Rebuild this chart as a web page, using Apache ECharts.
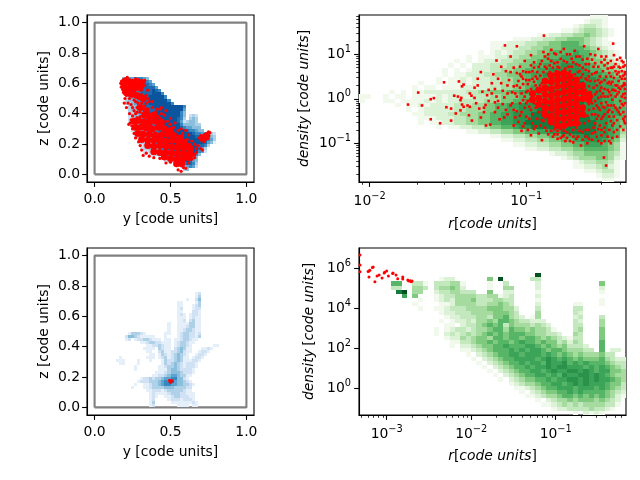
<!DOCTYPE html>
<html><head><meta charset="utf-8">
<style>html,body{margin:0;padding:0;background:#fff}#c{width:640px;height:480px}</style>
<script src="https://cdn.jsdelivr.net/npm/echarts@6/dist/echarts.min.js"></script>
</head><body><div id="c"></div>
<script>
const blues=['','#e4eff9','#cfe1f2','#aed1e7','#89bedc','#5ba3d0','#3787c0','#1c6aaf','#0b559f','#08306b','#08306b'];
const greens=['','#f0f9ec','#dcf2d7','#c4e8bd','#a5db9f','#80ca80','#57b567','#3ba458','#2a924a','#137c3e','#00511f'];
const linearTicks=[0,0.2,0.4,0.6,0.8,1.0];
const linearXTicks=[0,0.5,1.0];
const boxY=[0,1,1,0,0];
const boxZ=[0,0,1,1,0];
const trMajorX=[1e-2,1e-1],trMajorY=[1e-1,1,10],brMajorX=[1e-3,1e-2,1e-1],brMajorY=[1,1e2,1e4,1e6];

const topLeftRows=[
"0455566654","04556667765","045566677765","0045566777775","00455667777876","004456677778886",
"0034556677888886","00344566778888886","003345667788888886","0003445667788888888886","0003445667778888888885",
"0003345566778888888864","00023445667788888888640232","00023445567788888887630343","00023344566778888887523443",
"000023445566778888886444433","0000234455667788888876554440","00002344455667788888887665440",
"00000233445566778888888876655532","00000234455667788888888887776643","00000023445566778888888888877653",
"00000023344566778888888888887541","0000000233455667788888888877630","00000002334556677888888888753",
"00000000223445566778888888652","000000000022345566778888864","00000000000002345667788864",
"00000000000000023456778754","00000000000000000034567763","00000000000000000000245652","00000000000000000000034"];

const topLeftDots=[[.172,.6],[.178,.615],[.19,.625],[.2,.63],[.215,.64],[.23,.625],[.25,.62],[.27,.63],[.29,.625],[.31,.62],[.325,.61],[.175,.575],[.185,.56],[.19,.54],[.205,.585],[.225,.555],[.245,.575],[.265,.545],[.285,.59],[.305,.555],[.33,.585],[.35,.555],[.34,.52],[.21,.52],[.23,.5],[.25,.515],[.27,.48],[.24,.46],[.29,.5],[.31,.47],[.33,.45],[.36,.48],[.38,.44],[.28,.44],[.26,.42],[.3,.41],[.32,.4],[.36,.4],[.4,.41],[.44,.44],[.47,.42],[.25,.385],[.28,.375],[.33,.36],[.42,.38],[.46,.39],[.5,.37],[.53,.34],[.495,.33],[.235,.34],[.225,.33],[.25,.3],[.57,.3],[.6,.29],[.62,.26],[.58,.25],[.64,.22],[.66,.2],[.68,.19],[.7,.17],[.71,.16],[.67,.145],[.69,.24],[.7,.255],[.72,.26],[.735,.27],[.75,.28],[.76,.275],[.74,.25],[.73,.235],[.72,.215],[.745,.235],[.7,.225],[.32,.125],[.36,.12],[.39,.11],[.43,.105],[.47,.075],[.5,.08],[.55,.03],[.57,.02],[.585,.045],[.6,.04],[.62,.075],[.64,.1],[.66,.11],
[.2,.5],[.22,.47],[.26,.49],[.285,.47],[.25,.44],[.27,.4],[.31,.44],[.34,.47],[.35,.43],[.3,.38],[.38,.4],[.41,.43],[.39,.37],[.44,.4],[.36,.37],[.48,.35],[.52,.31],[.55,.29],[.58,.27],[.61,.23],[.6,.2],[.64,.18],[.67,.17],[.66,.13],[.34,.14],[.31,.16],[.3,.19],[.29,.215],[.27,.24],[.26,.27],[.245,.32],[.24,.36],[.23,.4],[.21,.44],[.195,.47],[.2,.53],[.18,.6],[.33,.62],[.24,.6],[.28,.58],[.26,.52],[.31,.525],[.35,.5],[.38,.48],[.43,.43],[.28,.41],[.3,.35],[.5,.33],[.45,.33],[.43,.37]];

const topLeftCore=[[.19,.6],[.215,.61],[.245,.605],[.275,.605],[.305,.6],[.2,.565],[.235,.57],[.265,.57],[.3,.57],[.21,.54],[.24,.53],[.28,.52],[.32,.5],[.34,.42],[.3,.44],[.26,.35],[.29,.355],[.325,.345],[.36,.34],[.4,.35],[.44,.345],[.27,.31],[.305,.31],[.34,.305],[.38,.3],[.42,.31],[.46,.3],[.5,.29],[.285,.27],[.32,.265],[.36,.265],[.4,.26],[.44,.26],[.48,.265],[.52,.26],[.56,.24],[.31,.23],[.35,.225],[.39,.225],[.43,.225],[.47,.22],[.51,.225],[.55,.215],[.59,.21],[.62,.185],[.35,.19],[.39,.185],[.43,.19],[.47,.185],[.51,.18],[.55,.18],[.59,.175],[.63,.16],[.39,.15],[.43,.145],[.47,.145],[.51,.14],[.55,.14],[.59,.135],[.63,.13],[.46,.115],[.5,.105],[.54,.1],[.58,.1],[.62,.11],[.54,.07],[.575,.07],[.74,.255],[.72,.24],[.36,.38],[.33,.39],[.39,.39]];

const bottomLeftRows=[
"0000000000 0000000000 0000000120 00000","0000000000 0000000000 0000000130 00000","0000000000 0000000000 0000100240 00000",
"0000000000 0000000000 0110000130 00000","0000000000 0000000000 0110001230 00000","0000000000 0000000000 0120001220 00000",
"0000000000 0000000000 0110002210 00000","0000000000 0000000000 0121012210 00000","0000000000 0000000000 0111012110 00000",
"0000000000 0000000000 0112023110 00000","0000000000 0000000010 0111133110 00000","0000000000 0000000010 0111233110 00000",
"0000000000 0000000010 0112332110 00000","0000013332 1000000110 0123322120 00000","0000244321 1111000100 0123322130 00000",
"0000120122 3321110110 1123321100 00000","0000000001 1233221110 1233211000 00000","0000000000 0112232110 1233210000 00011",
"0000000000 1111032110 2343110001 12100","0000000000 0110023112 2342110012 21000","0000000000 0011013212 3432100122 10000",
"0010000000 0111012312 3431101221 00000","0111000010 0010001322 3431112210 00000","0011000010 0000001323 4321222100 00000",
"0000000100 0000011233 4321222100 00000","0000000100 0000011134 4322221000 00000","0000000000 0000111234 4432221000 00000",
"0000000000 0001122345 5433110000 00000","0000000001 2232334556 6442100000 00000","0000000012 2233345667 5443210000 00000",
"0000000100 1123345665 5443321000 00000","0000001000 1123333444 3333220000 00000","0000000000 0112221233 3332110000 00000",
"0000000000 0012111123 3322111000 00000","0000000000 0012100112 3322211000 00000","0000000000 0012000012 2212221000 00000",
"0000000000 0013000001 1111112100 00000","0000000000 0012000000 0111101100 00000"];
const bottomLeftDots=[[.495,.172],[.5,.178],[.505,.172],[.498,.166],[.507,.178],[.492,.178],[.503,.165]];

const topRightRows=[
"111000","1221000","123321000","11234432100","112233445432100","1112233445554321000","11122233445566654321100",
"11222334455566665432100","1012123344556666766543210","101112233445566677776543210","10101222334455667777776554321",
"101022233344556677788877655432","1010122233445566778888887665543","1011222334455667788888888776654",
"10112122233445566778899988877665","10010112122233445566778899998877665","101101112222233445567788899998887766",
"1010112222222334455566778889999998887766","110010110111121222233344555667788899988887766","100011011112121223333444556677788999998887766",
"101121222233344556677888999999998887765","1012222233444556677888999999998888776","112222334445566778889999999998888776",
"11122233445566778889999999999888766","10112233445566778899999999999988765","10112233455667889999999999988765",
"112233445566778899999988764","11223344556677889888763","112233445566778887652","1122334455667776541","11223344556666541",
"1223445555431","12344455421","123344310","112234210","1123310","12210","1100"];

const topRightDots=[[-1.755,-.13],[-1.69,.14],[-1.666,-.15],[-1.61,-.01],[-1.59,.015],[-1.61,-.46],[-1.55,-.55],[-1.525,.37],[-1.51,-.19],[-1.48,-.22],[-1.48,-.49],[-1.46,.07],[-1.45,-.33],[-1.436,.05],[-1.43,.39],[-1.42,-.03],[-1.415,.02],[-1.41,.28],[-1.4,.32],[-1.42,-.26],[-1.41,-.13],[-1.4,-.18],[-1.366,-.37],[-1.347,-.49],[-1.375,-.15],[-1.36,-.18],[-1.36,.12],[-1.33,.25],[-1.31,.3],[-1.31,.45],[-1.29,.6],[-1.257,-.6],[-1.19,.86],[-1.136,1.2],[-1.06,1.18],[-.887,1.42],[-.445,1.24],[-.49,-1.5],[-.504,-1.32],
[-1.35,.07],[-1.33,.02],[-1.32,-.1],[-1.3,-.22],[-1.29,-.42],[-1.27,-.3],[-1.25,.08],[-1.24,.2],[-1.22,.35],[-1.21,.55],[-1.2,-.08],[-1.18,-.2],[-1.17,-.46],[-1.15,.18],[-1.14,.03],[-1.13,.62],[-1.12,-.35],[-1.11,.42],[-1.09,-.1],[-1.08,.7],[-1.07,.12],[-1.06,-.28],[-1.05,-.52],[-1.04,.25],[-1.03,.5],[-1.02,-.03],[-1.01,.85],[-1.0,-.4],[-.99,.33],[-.98,-.18],[-.97,.98],[-.96,.62],[-.95,.1],[-.94,-.62],[-.93,.45],[-.92,-.3],[-.91,.78],[-.9,.2],[-.89,1.05],[-.88,-.05],[-.87,-.72],[-.86,.55],[-1.28,.16],[-1.26,-.14],[-1.23,-.58],[-1.16,.72],[-1.1,.95],[-1.05,.4],[-1.0,.6],[-1.19,.05],[-1.08,-.6],[-1.03,-.72],[-.96,-.55],[-.92,-.78],[-.9,-.93],[-.95,.82],[-1.12,.3],[-1.09,.15],[-1.15,-.12],[-1.2,.22],[-1.13,-.25],[-1.07,-.42],[-1.03,.12],[-.98,.42],[-1.24,-.05],[-1.27,-.2],[-1.02,.33],[-.93,.6],[-.97,.22],[-.99,-.05],[-1.01,-.2],[-.94,-.2],[-.96,-.35],[-.89,-.5],[-.9,.35],[-.88,.72],[-.86,.9],[-.84,1.1],[-.83,-.85],[-.82,.8],[-.81,1.0],[-.8,-.9],[-.79,.7],[-.78,1.05],[-.77,-.85],[-.76,.85],[-.75,-.95],[-.74,1.0],[-.73,.72],[-.72,-.8],[-.71,.9],[-.7,-.98],[-.69,1.08],[-.68,.78],[-.67,-.85],[-.66,.95],[-.65,-1.05],[-.64,.7],[-.63,1.18],[-.62,-.7],[-.61,.9],[-.6,-.9],[-.59,1.0],[-.58,.55],[-.57,-.65],[-.56,.8],[-.55,-.85],[-.54,1.12],[-.53,.35],[-.52,-1.0],[-.51,.62],[-.5,-.75],[-.49,.95],[-.48,.2],[-.47,-.95],[-.46,.7],[-.45,-.6],[-.44,.98],[-.43,.3],[-.42,-.7],[-.41,.6],[-.4,-.35],[-.39,.85],[-.38,.1],[-.375,-.5],[-.37,.45],[-.37,.6],[-.375,.35],[-.38,.52],[-.39,.62],[-.4,.5],[-.41,.4],[-.42,.55],[-.43,.62],[-.44,.47],[-.45,.7],[-.46,.33],[-.37,.22],[-.37,.02],[-.38,-.15],[-.4,-.05],[-.42,.1],[-.44,-.15],[-.46,.08],[-.48,-.3],[-.5,.05],[-.52,.25],[-.54,-.2],[-.56,.4],[-.58,-.1],[-.6,.28],[-.55,-.45],[-.53,-.6],[-.51,-.4],[-.49,-.55],[-.47,-.7],[-.45,-.88],[-.5,-.95],[-.52,-.82],[-.54,-.68],[-.56,-.55],[-.58,-.78],[-.6,-.5],[-.62,.45],[-.63,-.4],[-.61,-1.0],[-.64,-.75],[-.66,-.55],[-.68,-.65],[-.7,-.7],[-.72,-.6],[-.74,-.75],[-.63,.32],[-.6,.62],[-.57,.72],[-.55,.15],[-.53,.5],[-.5,.42],[-.47,.58],[-.45,.2],[-.43,.78],[-.41,.72],[-.39,.28],[-.38,.72],[-.48,.8],[-.52,.82],[-.56,.58],[-.59,.15],[-.62,.65],[-.65,.48],[-.67,.6],[-.69,.55],[-.71,.72],[-.73,.58],[-.75,.68],[-.77,.6],[-.79,.5],[-.81,.62],[-.83,.7],[-.85,.6],[-.87,.42],[-.83,.45],[-.84,-.55],[-.86,-.45],[-.88,-.65],[-.82,-.68],[-.8,-.72],[-.78,-.68],[-.76,-.72],[-.91,-.15],[-.93,.05],[-.95,-.1],[-.97,-.25],[-.92,.15],[-.9,-.3],[-.94,.3],[-.96,.45],[-.98,.6],[-.91,.52],[-.89,.25],[-.95,.7],[-1.0,.15],[-1.02,.45],[-1.04,-.1],[-1.06,.05],[-1.08,.28],[-1.1,-.15],[-.42,-.25],[-.44,-.4],[-.46,-.5],[-.48,-.15],[-.4,-.2],[-.38,-.3],[-.37,-.4],[-.37,.75],[-.39,.45],[-.41,.15],[-.43,.05],[-.45,-.02],[-.47,-.25],[-.5,-.2],[-.52,-.1],[-.54,.02],[-.56,.1],[-.58,-.35],[-.6,-.25],[-.62,.08],[-.55,.6],[-.52,.05],[-.5,.75],[-.47,.38],
[-1.06,.58],[-1.04,.72],[-1.0,.42],[-1.01,.05],[-1.03,-.3],[-1.01,-.55],[-.99,-.7],[-.97,-.82],[-.95,-.68],[-.93,-.45],[-.91,-.6],[-.92,.72],[-.9,.85],[-.88,.95],[-.86,1.0],[-.84,.85],[-.82,1.02],[-.8,.82],[-.78,.9],[-.76,1.12],[-.74,.82],[-.72,1.0],[-.7,.82],[-.68,.95],[-.66,.75],[-.64,.88],[-.62,.78],[-.6,.78],[-.58,.88],[-.56,.98],[-.54,.72],[-.52,.95],[-.5,.88],[-.48,.68],[-.46,.85],[-.44,.72],[-.42,.88],[-.4,.92],[-.38,.82],[-.86,-.8],[-.84,-.72],[-.82,-.8],[-.8,-.8],[-.78,-.88],[-.76,-.82],[-.74,-.88],[-.72,-.95],[-.7,-.85],[-.68,-.9],[-.66,-.72],[-.64,-.92],[-.62,-.85],[-.6,-.7],[-.58,-.92],[-.56,-.75],[-.54,-.95],[-.52,-.7],[-.5,-.65],[-.48,-.85],[-.46,-1.0],[-.44,-.75],[-.42,-.85],[-.4,-.62],[-.38,-.7],[-.37,-.55],[-.63,-.55],[-.61,-.38],[-.6,-.12],[-.61,.05],[-.62,.2],[-.61,.42],[-.6,.5],[-.59,.4],[-.58,.05],[-.57,-.22],[-.57,.25],[-.56,-.35],[-.56,-.05],[-.55,.3],[-.55,-.15],[-.54,.42],[-.54,-.38],[-.53,.18],[-.53,-.25],[-.52,-.45],[-.52,.38],[-.51,.12],[-.51,-.18],[-.5,-.35],[-.5,.22],[-.49,.5],[-.49,-.08],[-.48,.35],[-.48,.05],[-.47,.15],[-.47,-.4],[-.46,-.15],[-.46,.5],[-.45,.38],[-.45,-.3],[-.44,.2],[-.44,-.55],[-.43,.18],[-.43,-.2],[-.42,.3],[-.42,-.48],[-.41,-.3],[-.41,.25],[-.4,.7],[-.4,.22],[-.39,.05],[-.39,-.12],[-.38,.3],[-.38,-.45],[-.37,.12],[-.37,-.1],[-.37,.32],[-.37,.55],
[-1.14,-.42],[-1.16,.35],[-1.18,.45],[-1.2,-.3],[-1.22,.12],[-1.18,-.05],[-1.12,.12],[-1.1,.6],[-1.08,-.25],[-1.06,.3],[-1.04,.55],[-1.04,-.38],[-1.02,.62],[-1.02,-.62],[-1.0,-.1],[-.99,.18],[-.98,-.45],[-.97,.75],[-.96,.05],[-.95,.38],[-.94,.5],[-.93,-.15],[-.92,-.08],[-.91,.3],[-.9,-.48],[-.89,.6],[-.88,-.42],[-.87,.68],[-.85,.75],[-.8,.72],[-.72,.62],[-.66,.62],[-.64,.55]];

const topRightCore=[[-.88,.4],[-.88,.25],[-.88,.1],[-.88,-.05],[-.88,-.2],[-.88,-.35],[-.84,.52],[-.84,.38],[-.84,.22],[-.84,.07],[-.84,-.08],[-.84,-.22],[-.84,-.38],[-.84,-.52],[-.8,.56],[-.8,.42],[-.8,.28],[-.8,.12],[-.8,-.02],[-.8,-.16],[-.8,-.3],[-.8,-.45],[-.8,-.6],[-.76,.58],[-.76,.45],[-.76,.3],[-.76,.15],[-.76,0],[-.76,-.15],[-.76,-.3],[-.76,-.45],[-.76,-.6],[-.72,.5],[-.72,.35],[-.72,.2],[-.72,.05],[-.72,-.1],[-.72,-.25],[-.72,-.4],[-.72,-.55],[-.68,.42],[-.68,.28],[-.68,.14],[-.68,0],[-.68,-.14],[-.68,-.28],[-.68,-.42],[-.68,-.55],[-.64,.3],[-.64,.15],[-.64,0],[-.64,-.2],[-.64,-.35],[-.92,.2],[-.92,.02],[-.92,-.12],[-.96,.12],[-.96,-.02],[-.6,.1],[-.6,-.02]];

const bottomRightRows=[
"","","","","","",
"0000000000 0000000000 0000000000 000a000000 0000000000",
"0000000000 0000012200 000050a000 0033000000 0000000000",
"0000006600 3310333441 0000100300 0002000000 0000050000",
"0000003300 4430344542 0000100440 0002000000 0000020000",
"00000009a0 4400233443 3300500220 0001000000 0000010000",
"0000000070 5000123344 4433441230 0002000000 0000000000",
"0000000000 0100123244 4533344330 0001000000 0000010000",
"0000000000 1000011244 4433445430 0002000000 1100010000",
"0000000000 0100112333 4444555442 0003000000 3300000000",
"0000000000 0000012233 3444455543 0004000000 3200000000",
"0000000000 0000001223 3344355643 2014000000 2300030000",
"0000000000 0000010122 3244546654 3322200000 3200040000",
"0000000000 0000001102 3345656354 4434320000 3300040000",
"0000000000 0000101233 2344566465 5454431000 3400050000",
"0000000000 0000102323 4345656566 6554433200 4300050000",
"0000000000 0000001224 3455466566 5665454321 3300050000",
"0000000000 0000000113 3455656656 7665655342 4300060000",
"0000000000 0000000102 2345566766 6776565453 3320060000",
"0000000000 0000000001 1234566676 7677656654 4433060220",
"0000000000 0000000000 1023456677 6777676565 4544453300",
"0000000000 0000000000 0102345667 7776787676 5655564322",
"0000000000 0000000000 0010234566 7677687786 7676665433",
"0000000000 0000000000 0001023456 6767787887 7767676543",
"0000000000 0000000000 0000102345 6677678778 8787677554",
"0000000000 0000000000 0000010234 5667767687 7887876544",
"0000000000 0000000000 0000001023 4556676778 8787877654",
"0000000000 0000000000 0000000012 3445667767 8787776553",
"0000000000 0000000000 0000000001 1234566777 6777676543",
"0000000000 0000000000 0000000000 1023455667 6766665432",
"0000000000 0000000000 0000000000 0112344566 5656565421",
"0000000000 0000000000 0000000000 0001023445 4555454320",
"0000000000 0000000000 0000000000 0000112343 4344443310",
"0000000000 0000000000 0000000000 0000001223 3334332100",
"0000000000 0000000000 0000000000 0000000000 1021210000"];

const bottomRightDots=[[-3.316,6.67],[-3.316,6.17],[-3.316,5.83],[-3.21,5.87],[-3.22,5.84],[-3.2,5.9],[-3.16,6.07],[-3.17,6.04],[-3.21,5.57],[-3.14,5.33],[-3.114,5.62],[-3.09,5.67],[-3.055,5.52],[-3.03,5.77],[-3.025,5.8],[-3.0,5.87],[-2.98,5.62],[-2.925,5.77],[-2.93,5.74],[-2.89,5.67],[-2.87,5.48],[-2.81,5.57],[-2.81,5.47],[-2.75,5.42],[-2.74,5.37],[-2.72,5.38],[-2.7,5.37],[-2.71,5.33]];

const panels={
 tl:{left:87,top:15,w:167,h:167},tr:{left:359,top:15,w:267,h:167},
 bl:{left:87,top:248,w:167,h:167},br:{left:359,top:248,w:267,h:167}
};
const F='"DejaVu Sans"';
const grids=[panels.tl,panels.tr,panels.bl,panels.br].map(p=>({left:p.left,top:p.top,width:p.w,height:p.h,show:true,borderColor:'#000',borderWidth:1.1,backgroundColor:'#fff'}));

const sup={b:{fontFamily:F,fontSize:13.9,color:'#000',lineHeight:20},s:{fontFamily:F,fontSize:9.8,color:'#000',verticalAlign:'top',lineHeight:20,padding:[0,0,6,0]}};
const nameRich={i:{fontFamily:F,fontStyle:'italic',fontSize:13.9,color:'#000'},n:{fontFamily:F,fontSize:13.9,color:'#000'}};
function powerLabel(v){const e=Math.round(Math.log10(v));return '{b|10}{s|'+String(e).replace('-','\u2212')+'}';}
function minors(a,b){const o=[];for(let e=a;e<=b;e++)for(let m=2;m<=9;m++)o.push(m*Math.pow(10,e));return o;}

const tk={lineStyle:{color:'#000',width:1.1}};
function linAxis(dim,gi,ticks,name,gap){
 return {type:'value',gridIndex:gi,min:-0.05,max:1.05,position:dim==='x'?'bottom':'left',
  name,nameLocation:'middle',nameGap:gap,nameTextStyle:{fontFamily:F,fontSize:13.9,color:'#000'},
  axisLine:{show:true,onZero:false,lineStyle:{color:'#000',width:1.1}},
  axisTick:{show:true,length:4.9,inside:false,customValues:ticks,lineStyle:tk.lineStyle},
  axisLabel:{show:true,fontFamily:F,fontSize:13.9,color:'#000',margin:dim==='x'?10:7,customValues:ticks,formatter:v=>v.toFixed(1)},
  splitLine:{show:false}};
}
function logAxis(dim,gi,lo,hi,major,name,gap){
 return {type:'log',logBase:10,gridIndex:gi,min:Math.pow(10,lo),max:Math.pow(10,hi),position:dim==='x'?'bottom':'left',
  name,nameLocation:'middle',nameGap:gap,nameTextStyle:{rich:nameRich},
  axisLine:{show:true,onZero:false,lineStyle:{color:'#000',width:1.1}},
  axisTick:{show:true,length:4.9,customValues:major,lineStyle:tk.lineStyle},
  axisLabel:{show:true,margin:dim==='x'?9:8,customValues:major,formatter:powerLabel,rich:sup},
  splitLine:{show:false}};
}
function logMinor(dim,gi,lo,hi,ma,mb){
 return {type:'log',logBase:10,gridIndex:gi,min:Math.pow(10,lo),max:Math.pow(10,hi),position:dim==='x'?'bottom':'left',
  axisLine:{show:false},axisTick:{show:true,length:2.8,customValues:minors(ma,mb),lineStyle:{color:'#000',width:.8}},
  axisLabel:{show:false},splitLine:{show:false}};
}
const dName='{i|density} {n|[}{i|code units}{n|]}';
const rName='{i|r}{n|[}{i|code units}{n|]}';
const trX=[-2.068,-0.363],trY=[-1.87,1.883],brX=[-3.328,-0.168],brY=[-1.335,7.015];
const xAxis=[
 linAxis('x',0,linearXTicks,'y [code units]',30),
 logAxis('x',1,trX[0],trX[1],trMajorX,rName,35),
 linAxis('x',2,linearXTicks,'y [code units]',30),
 logAxis('x',3,brX[0],brX[1],brMajorX,rName,34),
 logMinor('x',1,trX[0],trX[1],-3,-1),
 logMinor('x',3,brX[0],brX[1],-4,-1)];
const yAxis=[
 linAxis('y',0,linearTicks,'z [code units]',36),
 logAxis('y',1,trY[0],trY[1],trMajorY,dName,48),
 linAxis('y',2,linearTicks,'z [code units]',36),
 logAxis('y',3,brY[0],brY[1],brMajorY,dName,43),
 logMinor('y',1,trY[0],trY[1],-2,1)];

function cellsLinear(rows,x0,step,zTop){
 const out=[];
 rows.forEach((r,j)=>{const s=r.replace(/ /g,'');
  for(let i=0;i<s.length;i++){const l=parseInt(s[i],16);if(!l)continue;
   out.push([x0+i*step,zTop-(j+1)*step,x0+(i+1)*step,zTop-j*step,l]);}});
 return out;
}
function cellsLog(rows,xr,yr,nc,pad){
 const out=[],nr=rows.length,dx=(xr[1]-xr[0])/nc,dy=(yr[1]-yr[0])/nr;
 rows.forEach((r,j)=>{let s=r.replace(/ /g,'');if(pad)s=s.padStart(nc,'0');
  for(let i=0;i<s.length;i++){const l=parseInt(s[i],16);if(!l)continue;
   out.push([Math.pow(10,xr[0]+i*dx),Math.pow(10,yr[1]-(j+1)*dy),Math.pow(10,xr[0]+(i+1)*dx),Math.pow(10,yr[1]-j*dy),l]);}});
 return out;
}
function cellSeries(data,ramp,xi,yi){
 return {type:'custom',xAxisIndex:xi,yAxisIndex:yi,clip:true,silent:true,z:2,data,
  encode:{x:[0,2],y:[1,3]},
  renderItem(p,api){
   const a=api.coord([api.value(0),api.value(3)]),b=api.coord([api.value(2),api.value(1)]);
   const x=Math.round(a[0]),y=Math.round(a[1]);
   return {type:'rect',shape:{x,y,width:Math.round(b[0])-x,height:Math.round(b[1])-y},style:{fill:ramp[api.value(4)],stroke:null}};
  }};
}
function dots(data,xi,yi,size,sym){
 return {type:'scatter',xAxisIndex:xi,yAxisIndex:yi,symbol:sym,symbolSize:size,data,silent:true,z:4,
  itemStyle:{color:'#ff0000',borderWidth:0,opacity:1}};
}
const lg=a=>a.map(p=>[Math.pow(10,p[0]),Math.pow(10,p[1])]);
function box(xi,yi){return {type:'line',xAxisIndex:xi,yAxisIndex:yi,data:boxY.map((v,i)=>[v,boxZ[i]]),showSymbol:false,symbol:'none',silent:true,z:1,lineStyle:{color:'#808080',width:2.1}};}

const series=[
 box(0,0),
 cellSeries(cellsLinear(topLeftRows,.16,.02,.64),blues,0,0),
 dots(topLeftCore,0,0,7,'circle'),
 dots(topLeftDots,0,0,3.2,'circle'),
 cellSeries(cellsLog(topRightRows,trX,trY,45,true),greens,1,1),
 dots(lg(topRightCore),1,1,7,'circle'),
 dots(lg(topRightDots),1,1,2.6,'rect'),
 box(2,2),
 cellSeries(cellsLinear(bottomLeftRows,.12,.02,.76),blues,2,2),
 dots(bottomLeftDots,2,2,2.4,'rect'),
 cellSeries(cellsLog(bottomRightRows,brX,brY,50,false),greens,3,3),
 dots(lg(bottomRightDots),3,3,3,'circle')
];
const chart=echarts.init(document.getElementById('c'),null,{renderer:'canvas',width:640,height:480});
chart.setOption({animation:false,backgroundColor:'#fff',grid:grids,xAxis,yAxis,series});
</script></body></html>
